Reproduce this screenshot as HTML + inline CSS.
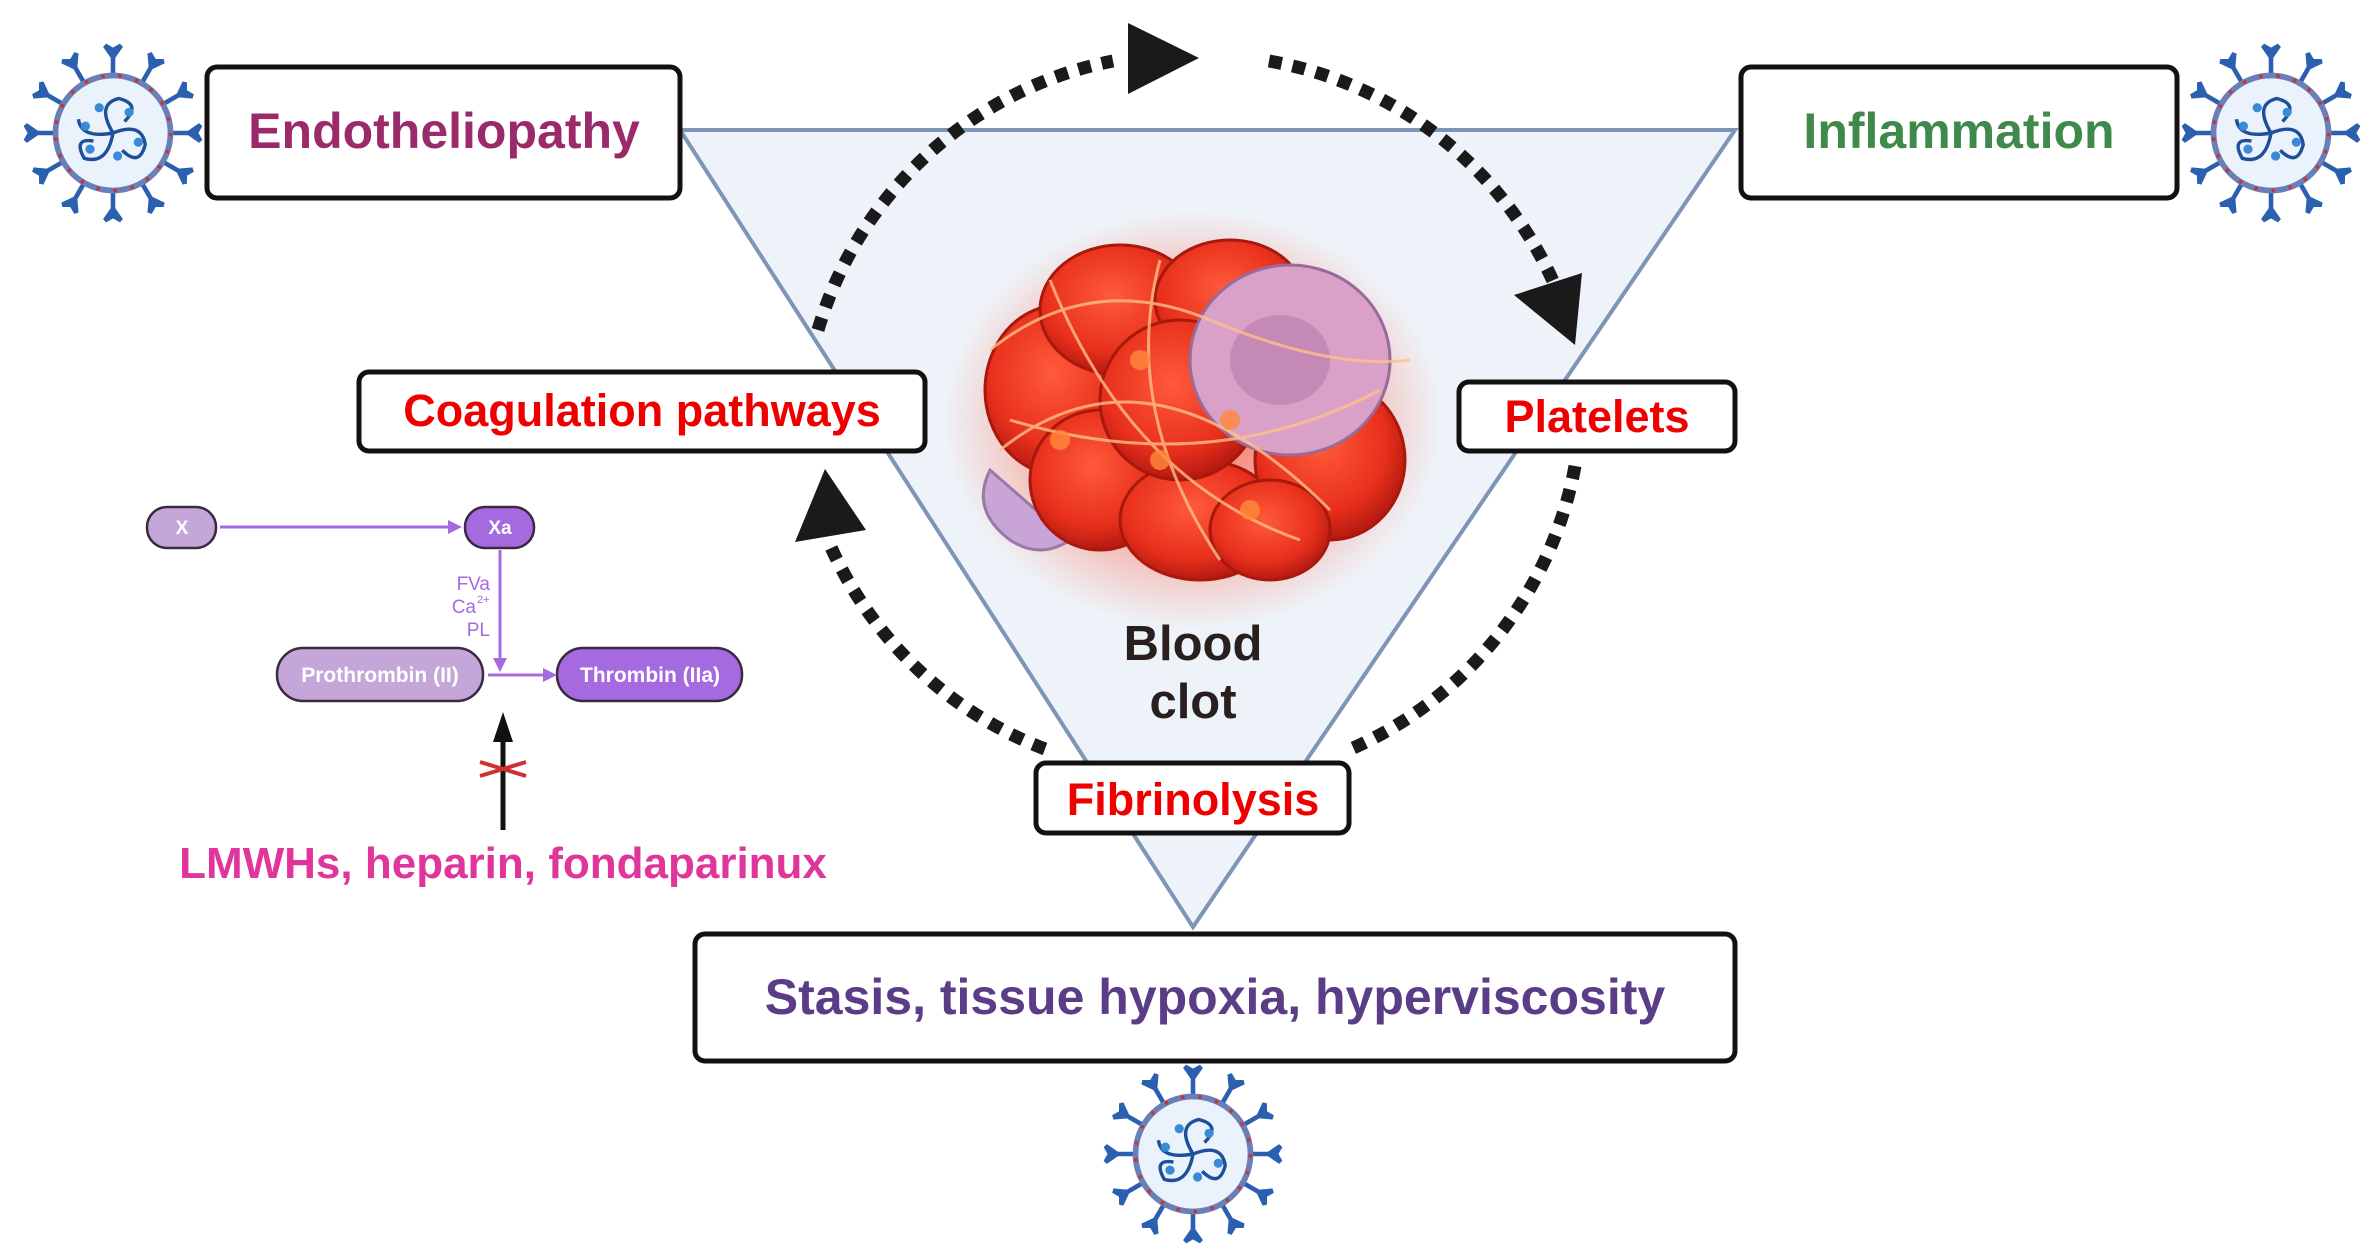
<!DOCTYPE html>
<html><head><meta charset="utf-8"><style>
html,body{margin:0;padding:0;background:#fff;}
svg{display:block;font-family:"Liberation Sans",sans-serif;font-weight:bold;}
</style></head><body>
<svg width="2374" height="1260" viewBox="0 0 2374 1260" xmlns="http://www.w3.org/2000/svg">
<defs>
<radialGradient id="glow" cx="50%" cy="50%" r="50%">
<stop offset="0" stop-color="#ff3a1a" stop-opacity="0.7"/><stop offset="0.7" stop-color="#ff5030" stop-opacity="0.3"/><stop offset="1" stop-color="#ff6040" stop-opacity="0"/>
</radialGradient>
<radialGradient id="rbc" cx="45%" cy="40%" r="60%">
<stop offset="0" stop-color="#ff5a3a"/><stop offset="0.7" stop-color="#e8301c"/><stop offset="1" stop-color="#b51a10"/>
</radialGradient>
<g id="virus">
<g stroke="#2b5fb0" stroke-width="4" fill="#3b74c8">
<g id="sp"><line x1="0" y1="-50" x2="0" y2="-68"/><path d="M0 -66 l-7 -10 l7 4 l7 -4 z"/></g>
<use href="#sp" transform="rotate(30)"/><use href="#sp" transform="rotate(60)"/><use href="#sp" transform="rotate(90)"/>
<use href="#sp" transform="rotate(120)"/><use href="#sp" transform="rotate(150)"/><use href="#sp" transform="rotate(180)"/>
<use href="#sp" transform="rotate(210)"/><use href="#sp" transform="rotate(240)"/><use href="#sp" transform="rotate(270)"/>
<use href="#sp" transform="rotate(300)"/><use href="#sp" transform="rotate(330)"/>
</g>
<circle r="50" fill="#eaf3fb" stroke="#6a7fb8" stroke-width="5"/>
<circle r="50" fill="none" stroke="#d03030" stroke-width="3" stroke-dasharray="3 12"/>
<g fill="none" stroke="#1f4f9a" stroke-width="3">
<path d="M0 0 q-15 -25 5 -30 q20 5 5 20"/><path d="M0 0 q25 -10 28 10 q-5 20 -20 5"/><path d="M0 0 q-5 28 -25 22 q-10 -18 8 -15"/><path d="M0 0 q-28 5 -30 -12"/>
</g>
<g fill="#3a8ad8"><circle cx="-12" cy="-22" r="4"/><circle cx="14" cy="-18" r="4"/><circle cx="22" cy="8" r="4"/><circle cx="-20" cy="14" r="4"/><circle cx="4" cy="20" r="4"/><circle cx="-24" cy="-6" r="4"/></g>
</g>
</defs>

<polygon points="680,130 1735,130 1193,927" fill="#eef3f9" stroke="#7f95b8" stroke-width="4"/>

<ellipse cx="1193" cy="420" rx="250" ry="210" fill="url(#glow)"/>
<path d="M990 470 q-20 40 20 70 q30 20 60 0 z" fill="#c9a4d6" stroke="#9a78a8" stroke-width="3"/>
<g stroke="#a8180c" stroke-width="3" fill="url(#rbc)">
<ellipse cx="1060" cy="390" rx="75" ry="85"/>
<ellipse cx="1120" cy="310" rx="80" ry="65"/>
<ellipse cx="1230" cy="300" rx="75" ry="60"/>
<ellipse cx="1100" cy="480" rx="70" ry="70"/>
<ellipse cx="1200" cy="520" rx="80" ry="60"/>
<ellipse cx="1180" cy="400" rx="80" ry="80"/>
<ellipse cx="1330" cy="460" rx="75" ry="80"/>
<ellipse cx="1270" cy="530" rx="60" ry="50"/>
</g>
<g fill="#d9a0c8" stroke="#9a6a98" stroke-width="3">
<ellipse cx="1290" cy="360" rx="100" ry="95"/>
</g>
<ellipse cx="1280" cy="360" rx="50" ry="45" fill="#b87aa8" opacity="0.6"/>
<g fill="none" stroke="#ffc08a" stroke-width="3" opacity="0.8">
<path d="M990 350 q100 -80 220 -30 t200 40"/><path d="M1000 450 q150 -120 330 60"/><path d="M1050 280 q80 200 250 260"/><path d="M1160 260 q-40 150 60 300"/><path d="M1010 420 q200 60 370 -30"/>
</g>
<g fill="#ff8a3a" opacity="0.8"><circle cx="1140" cy="360" r="10"/><circle cx="1060" cy="440" r="10"/><circle cx="1160" cy="460" r="10"/><circle cx="1250" cy="510" r="10"/><circle cx="1230" cy="420" r="10"/></g>

<text x="1193" y="660" font-size="49" fill="#2a1f1f" text-anchor="middle">Blood</text>
<text x="1193" y="718" font-size="49" fill="#2a1f1f" text-anchor="middle">clot</text>

<g fill="none" stroke="#1a1a1a" stroke-width="13" stroke-dasharray="13 11">
<path d="M818 330 A385 385 0 0 1 1113 61"/>
<path d="M1269 61 A385 385 0 0 1 1559 295"/>
<path d="M1575 466 A385 385 0 0 1 1344 752"/>
<path d="M1045 749 A385 385 0 0 1 830 545"/>
</g>
<g fill="#1a1a1a">
<polygon points="1128,23 1199,58 1128,94"/>
<polygon points="1514,295 1582,273 1575,345"/>
<polygon points="795,542 825,469 866,530"/>
</g>

<g fill="#fff" stroke="#111" stroke-width="5">
<rect x="207" y="67" width="473" height="131" rx="10"/>
<rect x="1741" y="67" width="436" height="131" rx="10"/>
<rect x="359" y="372" width="566" height="79" rx="10"/>
<rect x="1459" y="382" width="276" height="69" rx="10"/>
<rect x="1036" y="763" width="313" height="70" rx="10"/>
<rect x="695" y="934" width="1040" height="127" rx="10"/>
</g>
<text x="444" y="148" font-size="50" fill="#9b2a6a" text-anchor="middle">Endotheliopathy</text>
<text x="1959" y="148" font-size="50" fill="#3f8a4a" text-anchor="middle">Inflammation</text>
<text x="642" y="426" font-size="45" fill="#ee0000" text-anchor="middle">Coagulation pathways</text>
<text x="1597" y="432" font-size="45" fill="#ee0000" text-anchor="middle">Platelets</text>
<text x="1193" y="815" font-size="45" fill="#ee0000" text-anchor="middle">Fibrinolysis</text>
<text x="1215" y="1014" font-size="50" fill="#5a3d86" text-anchor="middle">Stasis, tissue hypoxia, hyperviscosity</text>

<use href="#virus" transform="translate(113,133) scale(1.15)"/>
<use href="#virus" transform="translate(2271,133) scale(1.15)"/>
<use href="#virus" transform="translate(1193,1154) scale(1.15)"/>

<g stroke="#3a2a40" stroke-width="2.5">
<rect x="147" y="507" width="69" height="41" rx="20" fill="#c4a6d8"/>
<rect x="465" y="507" width="69" height="41" rx="20" fill="#a66ae0"/>
<rect x="277" y="648" width="206" height="53" rx="26" fill="#c4a6d8"/>
<rect x="557" y="648" width="185" height="53" rx="26" fill="#a66ae0"/>
</g>
<g stroke="#a66ae0" stroke-width="3" fill="none">
<line x1="220" y1="527" x2="450" y2="527"/>
<line x1="500" y1="550" x2="500" y2="660"/>
<line x1="488" y1="675" x2="545" y2="675"/>
</g>
<g fill="#a66ae0">
<polygon points="448,520 462,527 448,534"/>
<polygon points="493,658 500,672 507,658"/>
<polygon points="543,668 557,675 543,682"/>
</g>
<g font-size="19" fill="#fff" text-anchor="middle">
<text x="182" y="534">X</text><text x="500" y="534">Xa</text>
<text x="380" y="682" font-size="21">Prothrombin (II)</text><text x="650" y="682" font-size="21">Thrombin (IIa)</text>
</g>
<g font-size="19" fill="#a66ae0" font-weight="normal">
<text x="490" y="590" text-anchor="end">FVa</text>
<text x="476" y="613" text-anchor="end">Ca</text><text x="477" y="603" font-size="11">2+</text>
<text x="490" y="636" text-anchor="end">PL</text>
</g>
<line x1="503" y1="830" x2="503" y2="740" stroke="#111" stroke-width="5"/>
<polygon points="493,742 503,712 513,742" fill="#111"/>
<path d="M480 762 L526 776 M480 776 L526 762" stroke="#d03030" stroke-width="4"/>
<text x="503" y="878" font-size="44" fill="#e0359a" text-anchor="middle">LMWHs, heparin, fondaparinux</text>
</svg>
</body></html>
